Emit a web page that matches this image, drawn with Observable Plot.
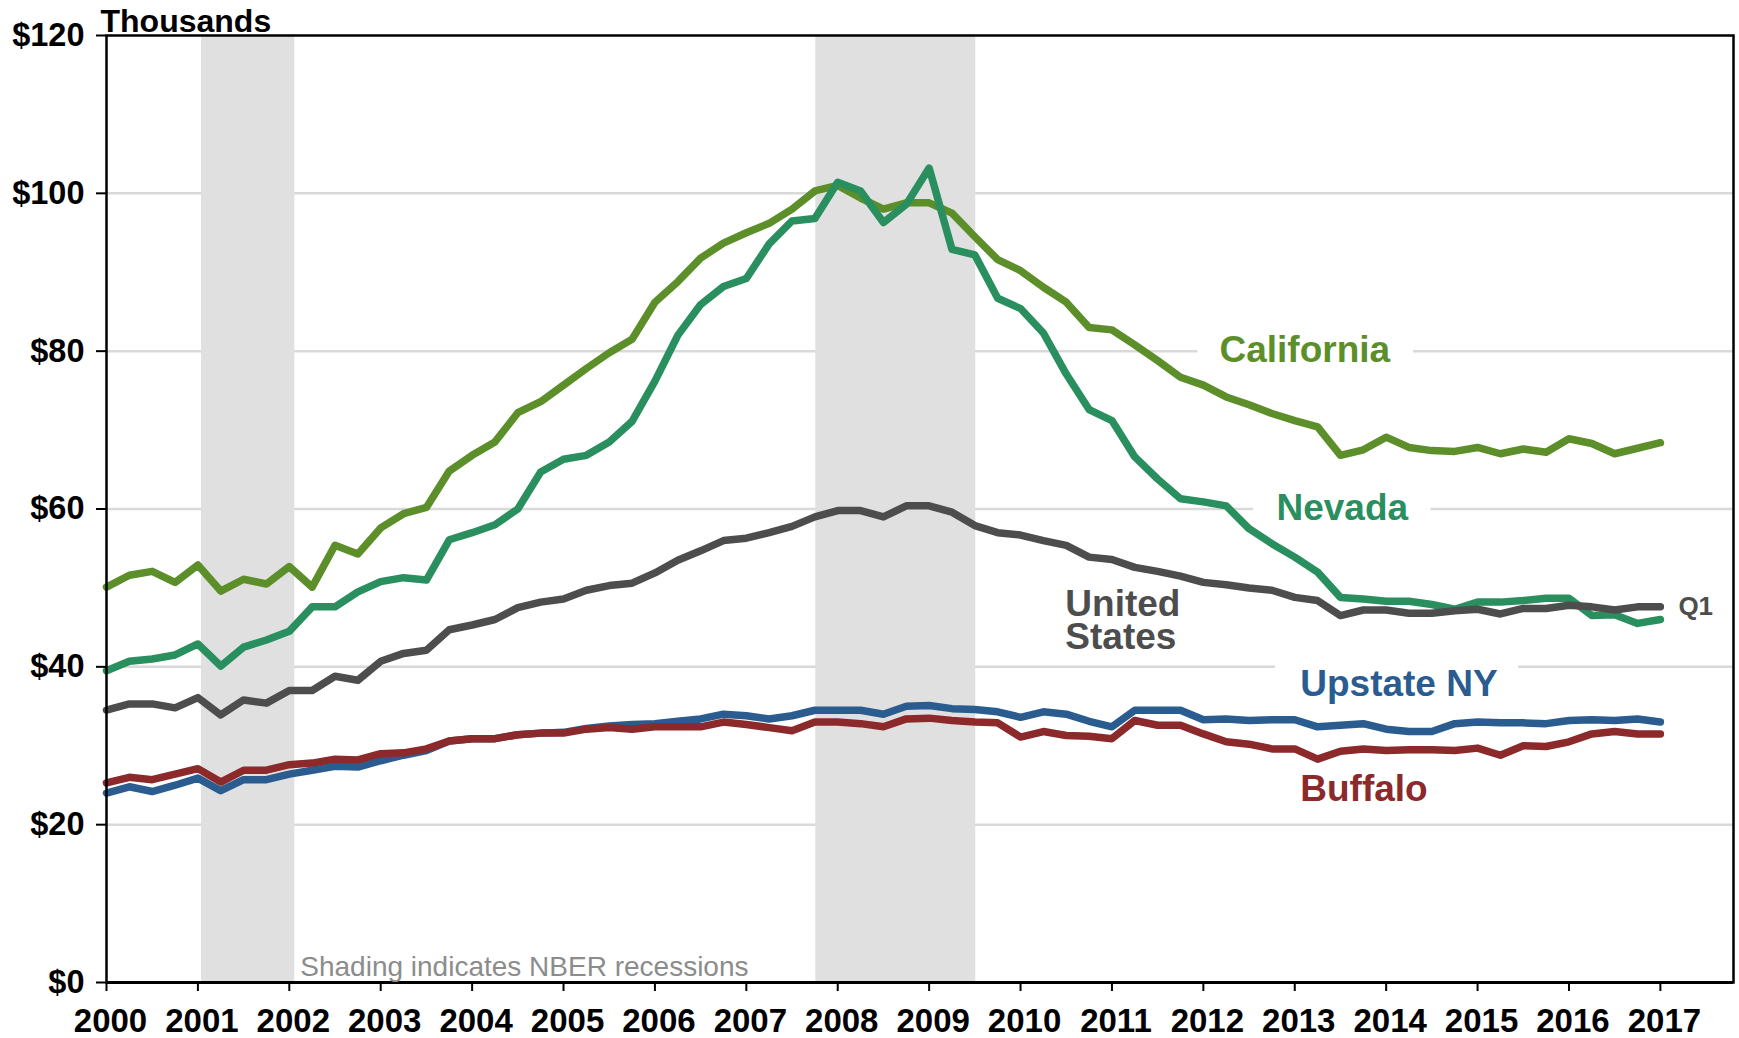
<!DOCTYPE html>
<html><head><meta charset="utf-8">
<script src="https://cdn.jsdelivr.net/npm/d3@7"></script>
<script src="https://cdn.jsdelivr.net/npm/@observablehq/plot@0.6"></script>
<style>
body{margin:0;background:#fff;}
#chart svg{display:block;}
</style></head><body><div id="chart"></div>
<script>
// Quarterly values, 2000Q1 .. 2017Q1 (thousands of dollars)
const california = [50.1,51.6,52.1,50.7,52.9,49.6,51.1,50.5,52.7,50.1,55.4,54.3,57.6,59.4,60.2,64.8,66.8,68.5,72.2,73.6,75.7,
  77.8,79.8,81.5,86.2,88.8,91.8,93.7,95.0,96.2,98.0,100.3,101.0,99.4,98.0,98.8,98.8,97.5,94.5,91.6,90.2,88.1,86.2,83.0,
  82.7,80.8,78.8,76.7,75.7,74.2,73.2,72.1,71.2,70.4,66.8,67.5,69.1,67.8,67.4,67.3,67.8,67.0,67.6,67.2,68.9,68.3,67.0,67.7,68.4];
const nevada = [39.5,40.7,41.0,41.5,42.9,40.1,42.5,43.4,44.5,47.6,47.6,49.5,50.8,51.3,51.0,56.1,57.0,58.0,60.0,64.7,66.3,66.8,
  68.5,71.1,76.2,82.0,85.9,88.2,89.2,93.6,96.5,96.8,101.4,100.3,96.3,98.6,103.2,92.9,92.2,86.7,85.4,82.3,77.1,72.6,
  71.2,66.6,63.8,61.3,60.9,60.4,57.5,55.6,53.9,52.0,48.8,48.6,48.3,48.3,47.9,47.3,48.2,48.2,48.4,48.7,48.7,46.5,46.6,45.5,46.0];
const unitedStates = [34.5,35.3,35.3,34.8,36.1,33.9,35.8,35.4,37.0,37.0,38.8,38.3,40.7,41.7,42.1,44.7,45.3,46.0,47.5,48.2,48.6,49.7,
  50.3,50.6,51.9,53.5,54.7,56.0,56.3,57.0,57.8,59.0,59.8,59.8,59.0,60.4,60.4,59.6,57.9,57.0,56.7,56.0,55.4,53.9,
  53.6,52.6,52.1,51.5,50.7,50.4,50.0,49.7,48.8,48.4,46.5,47.2,47.2,46.8,46.8,47.1,47.3,46.7,47.4,47.4,47.8,47.6,47.2,47.6,47.6];
const upstateNY = [24.0,24.8,24.2,25.0,25.9,24.3,25.7,25.7,26.4,26.9,27.4,27.3,28.1,28.8,29.4,30.6,30.9,30.9,31.4,31.6,31.7,32.2,
  32.5,32.7,32.8,33.1,33.4,34.0,33.8,33.4,33.8,34.5,34.5,34.5,34.0,
  35.0,35.1,34.7,34.6,34.3,33.6,34.3,34.0,33.1,32.4,34.5,34.5,34.5,33.3,33.4,33.2,33.3,33.3,32.4,32.6,32.8,32.1,31.8,31.8,32.8,33.0,32.9,32.9,32.8,33.2,33.3,33.2,33.4,33.0];
const buffalo = [25.3,26.0,25.7,26.4,27.1,25.4,26.9,26.9,27.6,27.8,28.3,28.2,29.0,29.1,29.6,30.6,30.9,30.9,31.4,31.6,31.6,32.1,
  32.3,32.1,32.4,32.4,32.4,33.0,32.7,32.3,31.9,33.0,33.0,32.8,32.4,
  33.4,33.5,33.2,33.0,32.9,31.1,31.8,31.3,31.2,30.9,33.2,32.6,32.6,31.5,30.5,30.2,29.6,29.6,28.3,29.3,29.6,29.4,29.5,29.5,29.4,29.7,28.8,30.0,29.9,30.5,31.5,31.8,31.5,31.5];

const xTicks = [2000,2001,2002,2003,2004,2005,2006,2007,2008,2009,2010,2011,2012,2013,2014,2015,2016,2017];
const yTicks = [0,20,40,60,80,100,120];
const gridValues = [20,40,60,80,100];
const recessionStart = [2001.04, 2007.76];
const recessionEnd = [2002.06, 2009.51];

// build tables
const toRows = (vals) => vals.map((v, i) => ({x: 2000 + i / 4, y: v}));
const recessions = recessionStart.map((s, i) => ({start: s, end: recessionEnd[i]}));

const seriesStyles = [
  {name: "California", values: california, color: "#5c8f2a"},
  {name: "Nevada", values: nevada, color: "#2a8f5f"},
  {name: "United States", values: unitedStates, color: "#4d4d4d"},
  {name: "Upstate NY", values: upstateNY, color: "#2b5c90"},
  {name: "Buffalo", values: buffalo, color: "#8b292b"}
];

// annotation placement (data coordinates)
const labelBoxes = [
  {x1: 2011.94, x2: 2014.30, y1: 78.5, y2: 81.5},
  {x1: 2012.55, x2: 2014.49, y1: 58.5, y2: 61.5},
  {x1: 2012.79, x2: 2015.45, y1: 38.8, y2: 41.2}
];
const annotations = [
  {text: "California", x: 2013.11, y: 80, anchor: "middle", color: "#5c8f2a"},
  {text: "Nevada", x: 2013.52, y: 60, anchor: "middle", color: "#2a8f5f"},
  {text: "United\nStates", x: 2010.49, y: 45.74, anchor: "start", color: "#4d4d4d"},
  {text: "Upstate NY", x: 2013.06, y: 37.6, anchor: "start", color: "#2b5c90"},
  {text: "Buffalo", x: 2013.06, y: 24.33, anchor: "start", color: "#8b292b"}
];
const lastIndex = unitedStates.length - 1;
const endNote = [{text: "Q1", x: 2000 + lastIndex / 4, y: unitedStates[lastIndex]}];

const FONT = "'Liberation Sans', Arial, Helvetica, sans-serif";

const marks = [
  Plot.ruleY(gridValues, {stroke: "#d9d9d9", strokeWidth: 2.5}),
  Plot.rect(labelBoxes, {x1: "x1", x2: "x2", y1: "y1", y2: "y2", fill: "white"}),
  Plot.rect(recessions, {x1: "start", x2: "end", fill: "#e0e0e0"}),
  ...seriesStyles.map(s => Plot.line(toRows(s.values), {x: "x", y: "y", stroke: s.color, strokeWidth: 7.5, strokeLinejoin: "round", strokeLinecap: "round"})),
  Plot.frame({stroke: "black", strokeWidth: 2.5}),
  Plot.ruleY([0], {stroke: "black", strokeWidth: 3}),
  Plot.axisY({ticks: yTicks, tickFormat: d => "$" + d, tickSize: 10, tickPadding: 12, fontSize: 32.5, fontWeight: "bold", fill: "black", stroke: "black", strokeWidth: 2}),
  // x tick marks (no labels)
  Plot.axisX({ticks: xTicks, tickFormat: () => "", tickSize: 9, stroke: "black", strokeWidth: 2}),
  // x tick labels, nudged slightly right as in the reference
  Plot.axisX({ticks: xTicks, tickFormat: d => String(d), tickSize: 0, tickPadding: 26, dx: 4, fontSize: 33, fontWeight: "bold", fill: "black"}),
  ...annotations.map(a => Plot.text([a], {x: "x", y: "y", text: "text", textAnchor: a.anchor, lineAnchor: "middle", lineHeight: 0.9, fill: a.color, fontSize: 37, fontWeight: "bold"})),
  Plot.text(endNote, {x: "x", y: "y", text: "text", dx: 18, textAnchor: "start", lineAnchor: "middle", fill: "#4d4d4d", fontSize: 26, fontWeight: "bold"}),
  Plot.text(["Thousands"], {frameAnchor: "top-left", dx: -6, dy: -4, lineAnchor: "bottom", textAnchor: "start", fontSize: 32, fontWeight: "bold", fill: "black"}),
  Plot.text(["Shading indicates NBER recessions"], {x: () => recessionEnd[0] + 0.06, frameAnchor: "bottom", dy: -7, lineAnchor: "bottom", textAnchor: "start", fontSize: 28, fill: "#8c8c8c"})
];

const chart = Plot.plot({
  width: 1739,
  height: 1038,
  marginLeft: 106,
  marginRight: 6,
  marginTop: 35,
  marginBottom: 56,
  style: {fontFamily: FONT, background: "white", overflow: "visible"},
  x: {domain: [2000, 2017.8]},
  y: {domain: [0, 120]},
  marks
});
document.getElementById("chart").appendChild(chart);
</script>
</body></html>
